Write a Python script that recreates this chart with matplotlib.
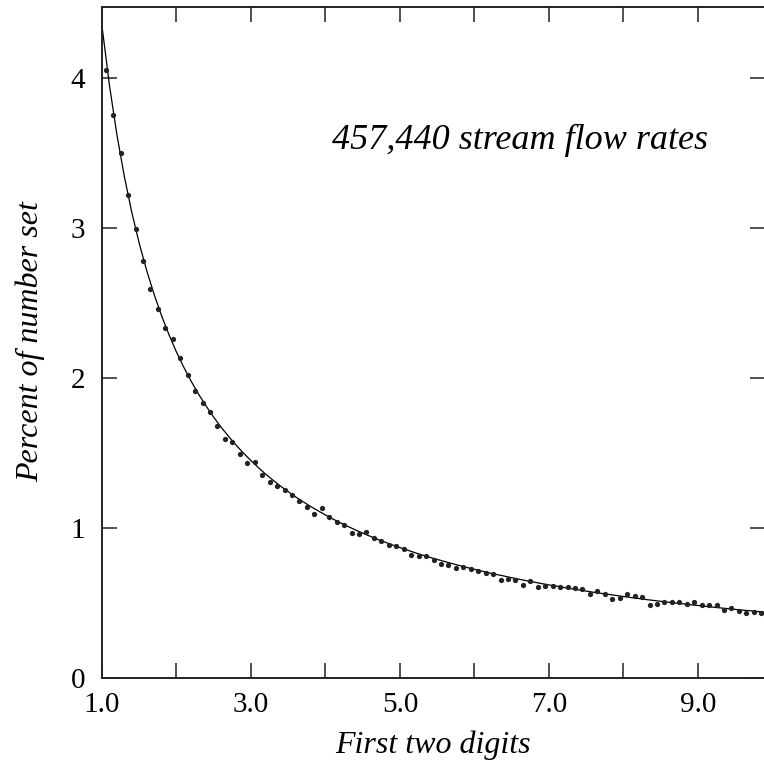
import matplotlib
matplotlib.use("Agg")
import matplotlib.pyplot as plt

plt.rcParams['font.family'] = ['Liberation Serif', 'DejaVu Serif']

# Observed two-digit frequencies (percent), bin centres 1.05 ... 9.85
dot_x = [1.05, 1.15, 1.25, 1.35, 1.45, 1.55, 1.65, 1.75, 1.85, 1.95,
         2.05, 2.15, 2.25, 2.35, 2.45, 2.55, 2.65, 2.75, 2.85, 2.95,
         3.05, 3.15, 3.25, 3.35, 3.45, 3.55, 3.65, 3.75, 3.85, 3.95,
         4.05, 4.15, 4.25, 4.35, 4.45, 4.55, 4.65, 4.75, 4.85, 4.95,
         5.05, 5.15, 5.25, 5.35, 5.45, 5.55, 5.65, 5.75, 5.85, 5.95,
         6.05, 6.15, 6.25, 6.35, 6.45, 6.55, 6.65, 6.75, 6.85, 6.95,
         7.05, 7.15, 7.25, 7.35, 7.45, 7.55, 7.65, 7.75, 7.85, 7.95,
         8.05, 8.15, 8.25, 8.35, 8.45, 8.55, 8.65, 8.75, 8.85, 8.95,
         9.05, 9.15, 9.25, 9.35, 9.45, 9.55, 9.65, 9.75, 9.85]
dot_y = [4.05, 3.75, 3.50, 3.215, 2.99, 2.78, 2.59, 2.46, 2.33, 2.26,
         2.13, 2.02, 1.91, 1.835, 1.77, 1.68, 1.595, 1.57, 1.49, 1.43,
         1.44, 1.35, 1.305, 1.28, 1.253, 1.218, 1.182, 1.14, 1.09, 1.13,
         1.07, 1.04, 1.02, 0.965, 0.96, 0.975, 0.93, 0.91, 0.887, 0.882,
         0.86, 0.822, 0.815, 0.813, 0.787, 0.76, 0.755, 0.73, 0.742, 0.727,
         0.711, 0.698, 0.691, 0.651, 0.658, 0.656, 0.618, 0.647, 0.607, 0.616,
         0.611, 0.605, 0.605, 0.60, 0.593, 0.56, 0.58, 0.558, 0.529, 0.536,
         0.56, 0.544, 0.538, 0.484, 0.496, 0.507, 0.509, 0.504, 0.493, 0.507,
         0.487, 0.487, 0.484, 0.456, 0.467, 0.447, 0.431, 0.442, 0.435]

# Reference (theoretical) curve
curve_x = [1.0, 1.1, 1.2, 1.3, 1.4, 1.5, 1.6, 1.7, 1.8, 1.9,
           2.0, 2.1, 2.2, 2.3, 2.4, 2.5, 2.6, 2.7, 2.8, 2.9,
           3.0, 3.1, 3.2, 3.3, 3.4, 3.5, 3.6, 3.7, 3.8, 3.9,
           4.0, 4.1, 4.2, 4.3, 4.4, 4.5, 4.6, 4.7, 4.8, 4.9,
           5.0, 5.1, 5.2, 5.3, 5.4, 5.5, 5.6, 5.7, 5.8, 5.9,
           6.0, 6.1, 6.2, 6.3, 6.4, 6.5, 6.6, 6.7, 6.8, 6.9,
           7.0, 7.1, 7.2, 7.3, 7.4, 7.5, 7.6, 7.7, 7.8, 7.9,
           8.0, 8.1, 8.2, 8.3, 8.4, 8.5, 8.6, 8.7, 8.8, 8.9,
           9.0, 9.1, 9.2, 9.3, 9.4, 9.5, 9.6, 9.7, 9.8, 9.9]
curve_y = [4.343, 3.948, 3.619, 3.341, 3.102, 2.895, 2.714, 2.555, 2.413, 2.286,
           2.171, 2.068, 1.974, 1.888, 1.810, 1.737, 1.670, 1.609, 1.551, 1.498,
           1.448, 1.401, 1.357, 1.316, 1.277, 1.241, 1.206, 1.174, 1.143, 1.114,
           1.086, 1.059, 1.034, 1.010, 0.987, 0.965, 0.944, 0.924, 0.905, 0.886,
           0.869, 0.852, 0.835, 0.819, 0.804, 0.790, 0.776, 0.762, 0.749, 0.736,
           0.724, 0.712, 0.700, 0.689, 0.679, 0.668, 0.658, 0.648, 0.639, 0.629,
           0.620, 0.612, 0.603, 0.595, 0.587, 0.579, 0.571, 0.564, 0.557, 0.550,
           0.543, 0.536, 0.530, 0.523, 0.517, 0.511, 0.505, 0.499, 0.494, 0.488,
           0.483, 0.477, 0.472, 0.467, 0.462, 0.457, 0.452, 0.448, 0.443, 0.439]

x_ticks = [1, 2, 3, 4, 5, 6, 7, 8, 9]
x_tick_labels = ["1.0", "", "3.0", "", "5.0", "", "7.0", "", "9.0"]
y_ticks = [0, 1, 2, 3, 4]
y_tick_labels = ["0", "1", "2", "3", "4"]
annotation = "457,440 stream flow rates"
x_label = "First two digits"
y_label = "Percent of number set"

W, H = 764, 772
fig = plt.figure(figsize=(W / 100, H / 100), dpi=100)
left, right, top, bottom = 102, 765, 7, 678
ax = fig.add_axes([left / W, (H - bottom) / H, (right - left) / W, (bottom - top) / H])

ax.plot(curve_x, curve_y, color='black', lw=0.9, clip_on=True)
ax.plot(dot_x, dot_y, 'o', color='#222222', ms=3.8, mec='none', clip_on=True)

ax.set_xlim(1.0, 9.9)
ax.set_ylim(0, 4.47)

ax.set_xticks(x_ticks)
ax.set_xticklabels(x_tick_labels)
ax.set_yticks(y_ticks)
ax.set_yticklabels(y_tick_labels)

ax.tick_params(axis='both', which='major', direction='in', length=11, width=1.1,
               color='#222222', labelsize=21, top=True, right=True)
ax.tick_params(axis='x', pad=10)
ax.tick_params(axis='y', pad=12)

for side in ['left', 'bottom', 'top']:
    ax.spines[side].set_linewidth(1.4)
    ax.spines[side].set_color('#222222')
ax.spines['right'].set_visible(False)

fig.text(433 / W, 1 - 745 / H, x_label, fontsize=23, style='italic',
         ha='center', va='center')
fig.text(30 / W, 1 - 342 / H, y_label, fontsize=23, style='italic',
         rotation=90, ha='center', va='center')
fig.text(520 / W, 1 - 140 / H, annotation, fontsize=26, style='italic',
         ha='center', va='center')

fig.savefig("out.png", dpi=100)
